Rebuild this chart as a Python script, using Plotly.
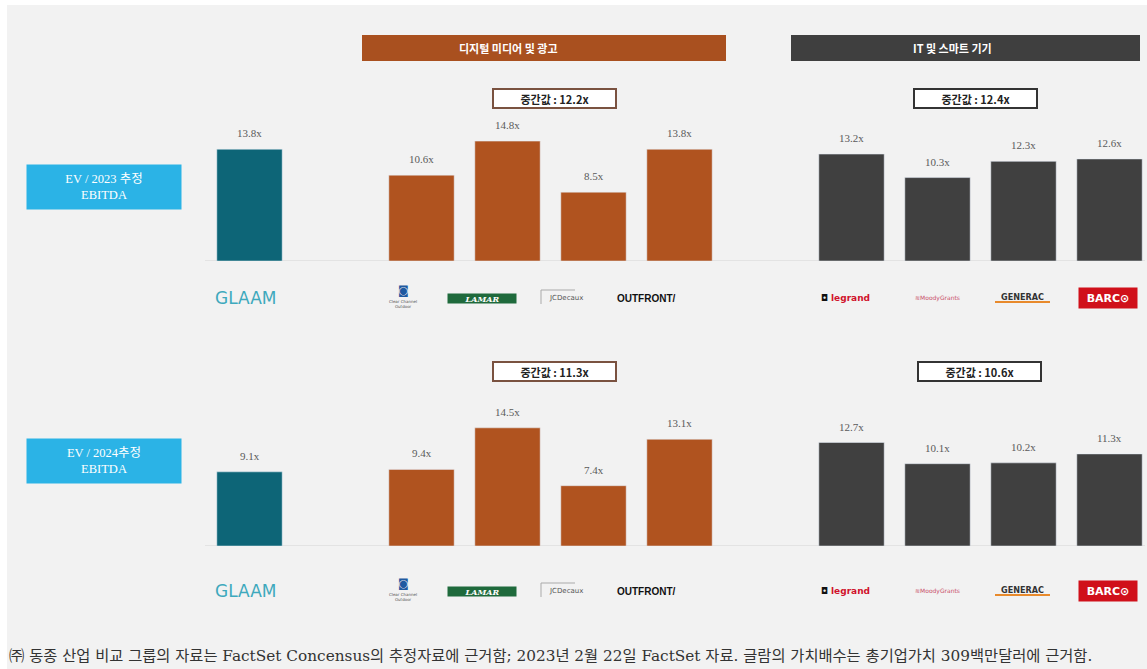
import plotly.graph_objects as go

W, H = 1147, 669

# ---------------- data ----------------
slots = ["GLAAM", "gap1", "Clear Channel Outdoor", "LAMAR", "JCDecaux", "OUTFRONT",
         "gap2", "Legrand", "Vivint", "Generac", "Barco"]
glaam = ["GLAAM"]
digital = ["Clear Channel Outdoor", "LAMAR", "JCDecaux", "OUTFRONT"]
it = ["Legrand", "Vivint", "Generac", "Barco"]

glaam_2023 = [13.8]
digital_2023 = [10.6, 14.8, 8.5, 13.8]
it_2023 = [13.2, 10.3, 12.3, 12.6]

glaam_2024 = [9.1]
digital_2024 = [9.4, 14.5, 7.4, 13.1]
it_2024 = [12.7, 10.1, 10.2, 11.3]

median_digital = [12.2, 11.3]
median_it = [12.4, 10.6]

row_labels = ["EV / 2023 추정<br>EBITDA", "EV / 2024추정<br>EBITDA"]
header_digital = "디지털 미디어 및 광고"
header_it = "IT 및 스마트 기기"
footnote = ("㈜ 동종 산업 비교 그룹의 자료는 FactSet Concensus의 추정자료에 근거함; "
            "2023년 2월 22일 FactSet 자료. 글람의 가치배수는 총기업가치 309백만달러에 근거함.")

C_TEAL = "#0d6577"
C_ORANGE = "#b0531f"
C_DARK = "#404040"
C_BLUE = "#2bb3e6"


def px(x):
    return x / W


def py(y):
    return 1 - y / H


def ann(x, y, text, font, **kw):
    d = dict(x=px(x), y=py(y), xref="paper", yref="paper", text=text, showarrow=False,
             xanchor="center", yanchor="middle", font=font)
    d.update(kw)
    return d


fig = go.Figure()

rows = [
    ("x", "y", (glaam_2023, digital_2023, it_2023)),
    ("x2", "y2", (glaam_2024, digital_2024, it_2024)),
]
for xa, yref, (g, d, i) in rows:
    for cats, vals, col in ((glaam, g, C_TEAL), (digital, d, C_ORANGE), (it, i, C_DARK)):
        fig.add_trace(go.Bar(x=cats, y=vals, marker_color=col, width=0.76,
                             xaxis=xa, yaxis=yref, showlegend=False, hoverinfo="x+y"))

annotations = []
shapes = []

label_font = dict(family="Liberation Serif, DejaVu Serif, serif", size=11, color="#5a5a5a")
for xa, yref, (g, d, i) in rows:
    for cats, vals in ((glaam, g), (digital, d), (it, i)):
        for c, v in zip(cats, vals):
            annotations.append(dict(x=c, y=v, xref=xa, yref=yref, text=f"{v}x",
                                    showarrow=False, xanchor="center", yanchor="bottom",
                                    yshift=8, font=label_font))
    shapes.append(dict(type="line", xref="paper", yref=yref, x0=px(205), x1=px(1145),
                       y0=0, y1=0, line=dict(color="#e3e3e3", width=2), layer="below"))

# background panel
shapes.insert(0, dict(type="rect", xref="paper", yref="paper", x0=px(7), x1=1,
                      y0=0, y1=py(5), fillcolor="#f2f2f2", line_width=0, layer="below"))

# header bands
shapes.append(dict(type="rect", xref="paper", yref="paper", x0=px(362), x1=px(726),
                   y0=py(61), y1=py(35), fillcolor="#a9501f", line_width=0))
shapes.append(dict(type="rect", xref="paper", yref="paper", x0=px(791), x1=px(1140),
                   y0=py(61), y1=py(35), fillcolor="#3f3f3f", line_width=0))
hdr_font = dict(family="Noto Sans CJK KR", size=11, color="white")
annotations.append(ann(508, 48, f"<b>{header_digital}</b>", hdr_font))
annotations.append(ann(952, 48, f"<b>{header_it}</b>", hdr_font))

# median boxes
med_font = dict(family="Noto Sans CJK KR", size=11, color="#222222")
for (xc, yc, val, border) in ((554, 98, median_digital[0], "#7a5240"),
                               (975, 98, median_it[0], "#333333"),
                               (554, 371, median_digital[1], "#7a5240"),
                               (979, 371, median_it[1], "#333333")):
    annotations.append(ann(xc, yc, f"<b>중간값 : {val}x</b>", med_font,
                           bgcolor="white", bordercolor=border, borderwidth=2,
                           width=119, height=15, borderpad=1))

# row label boxes
row_font = dict(family="Liberation Serif, Noto Sans CJK KR", size=12.5, color="white")
for (yc, txt) in ((187, row_labels[0]), (461, row_labels[1])):
    annotations.append(ann(104, yc, txt, row_font, bgcolor=C_BLUE,
                           width=150, height=40, borderpad=2))

# logos rendered as text
for ly in (298, 591):
    annotations.append(ann(245, ly, "GLAAM",
                           dict(family="DejaVu Sans", size=17, color="#3ea9bd")))
    annotations.append(ann(403, ly - 8, "<b>◙</b>",
                           dict(family="DejaVu Sans", size=11, color="#1f5aa0")))
    annotations.append(ann(403, ly + 6, "Clear Channel<br>Outdoor",
                           dict(family="DejaVu Sans", size=4, color="#555555")))
    annotations.append(ann(482, ly, "<b><i>LAMAR</i></b>",
                           dict(family="DejaVu Serif", size=8, color="white"),
                           bgcolor="#1f6a3c", width=68, height=9, borderpad=0))
    annotations.append(ann(566, ly, "JCDecaux",
                           dict(family="DejaVu Sans", size=7, color="#555555")))
    shapes.append(dict(type="line", xref="paper", yref="paper", x0=px(541), x1=px(541),
                       y0=py(ly + 6), y1=py(ly - 8), line=dict(color="#aaaaaa", width=1)))
    shapes.append(dict(type="line", xref="paper", yref="paper", x0=px(541), x1=px(575),
                       y0=py(ly - 8), y1=py(ly - 8), line=dict(color="#aaaaaa", width=1)))
    annotations.append(ann(646, ly, "<b>OUTFRONT/</b>",
                           dict(family="Liberation Sans", size=10, color="#111111")))
    annotations.append(ann(845, ly, "<span style='color:#111111'>◘</span> <b>legrand</b>",
                           dict(family="DejaVu Sans", size=9, color="#d0122c")))
    annotations.append(ann(937, ly, "≋MoodyGrants",
                           dict(family="DejaVu Sans", size=6, color="#c9506a")))
    annotations.append(ann(1022, ly - 1, "<b>GENERAC</b>",
                           dict(family="DejaVu Sans Condensed", size=9, color="#333333")))
    shapes.append(dict(type="rect", xref="paper", yref="paper", x0=px(995), x1=px(1050),
                       y0=py(ly + 5), y1=py(ly + 3), fillcolor="#e88a2c", line_width=0))
    annotations.append(ann(1108, ly, "<b>BARC⊙</b>",
                           dict(family="DejaVu Sans", size=11, color="white"),
                           bgcolor="#d0101a", width=56, height=18, borderpad=1))

# footnote
annotations.append(ann(7, 656, footnote,
                       dict(family="DejaVu Serif, Noto Sans CJK KR", size=15.3, color="#333333"),
                       xanchor="left"))

x_left = 206.5
x_right = 1147.0
step = 86.0
x_range = [-0.5, -0.5 + (x_right - x_left) / step]

top_base, bot_base = 261, 546
ppu_top, ppu_bot = 8.1, 8.15
axis_common = dict(domain=[px(x_left), 1], range=x_range, type="category",
                   categoryorder="array", categoryarray=slots, showticklabels=False,
                   showgrid=False, zeroline=False, showline=False, fixedrange=True)
fig.update_layout(
    width=W, height=H, margin=dict(l=0, r=0, t=0, b=0),
    paper_bgcolor="white", plot_bgcolor="rgba(0,0,0,0)",
    barmode="overlay",
    xaxis=dict(axis_common, anchor="y"),
    xaxis2=dict(axis_common, anchor="y2"),
    yaxis=dict(domain=[py(top_base), py(100)], range=[0, (top_base - 100) / ppu_top],
               showgrid=False, zeroline=False, showticklabels=False, anchor="x"),
    yaxis2=dict(domain=[py(bot_base), py(385)], range=[0, (bot_base - 385) / ppu_bot],
                showgrid=False, zeroline=False, showticklabels=False, anchor="x2"),
    annotations=annotations, shapes=shapes,
)

fig.write_html("out.html")
